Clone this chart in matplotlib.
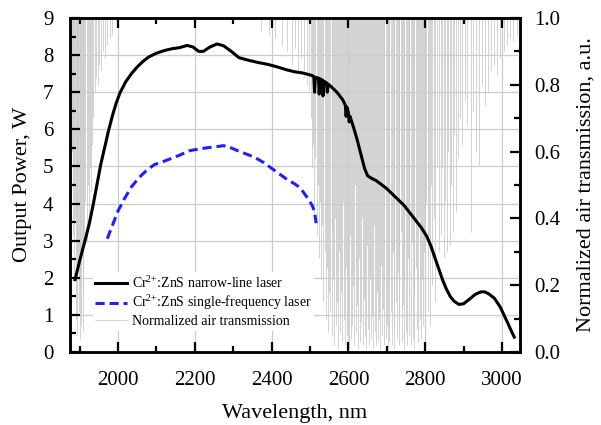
import matplotlib
matplotlib.use("Agg")
import matplotlib.pyplot as plt
from matplotlib.ticker import MultipleLocator, FormatStrFormatter

plt.rcParams['font.family'] = ['Liberation Serif', 'DejaVu Serif']
plt.rcParams['mathtext.fontset'] = 'custom'
plt.rcParams['mathtext.rm'] = 'Liberation Serif'
plt.rcParams['mathtext.it'] = 'Liberation Serif:italic'

# ---------------- data ----------------
# Cr2+:ZnS narrow-line laser (wavelength nm, output power W)
narrow_nm = [1888, 1900, 1914, 1925, 1935, 1945, 1955, 1965, 1975, 1985,
             1995, 2005, 2020, 2035, 2050, 2065, 2080, 2100, 2120, 2140, 2160,
             2180, 2195, 2210, 2222, 2240, 2258, 2275, 2295, 2315, 2340,
             2365, 2390, 2415, 2440, 2460, 2480, 2495, 2505,
             2510, 2512, 2514, 2522, 2524, 2526, 2532, 2534, 2536, 2543, 2545, 2547,
             2555, 2570, 2585, 2592, 2594, 2596, 2600, 2602, 2604, 2612, 2622, 2632,
             2642, 2650, 2660, 2672, 2685, 2700, 2715, 2730, 2745, 2760,
             2775, 2790, 2805, 2815, 2825, 2835, 2845, 2855, 2865, 2875,
             2888, 2900, 2915, 2930, 2945, 2955, 2965, 2980, 2995, 3005,
             3015, 3025, 3032]
narrow_W = [1.95, 2.45, 3.0, 3.45, 3.95, 4.5, 5.05, 5.5, 5.95, 6.35,
            6.7, 6.98, 7.28, 7.5, 7.68, 7.83, 7.95, 8.05, 8.12, 8.17, 8.2,
            8.26, 8.22, 8.1, 8.1, 8.22, 8.3, 8.25, 8.1, 7.93, 7.86,
            7.8, 7.75, 7.68, 7.6, 7.55, 7.52, 7.48, 7.45,
            7.42, 7.0, 7.4, 7.38, 6.95, 7.36, 7.33, 6.9, 7.3, 7.25, 7.0, 7.22,
            7.15, 7.0, 6.8, 6.65, 6.35, 6.6, 6.45, 6.2, 6.35, 6.1, 5.75, 5.35,
            4.95, 4.75, 4.68, 4.62, 4.52, 4.4, 4.25, 4.1, 3.95, 3.75,
            3.55, 3.35, 3.1, 2.85, 2.55, 2.25, 1.95, 1.7, 1.5, 1.37,
            1.28, 1.3, 1.42, 1.55, 1.62, 1.62, 1.57, 1.45, 1.22, 1.0,
            0.78, 0.55, 0.4]

# Cr2+:ZnS single-frequency laser
single_nm = [1972, 1985, 2000, 2015, 2035, 2055, 2075, 2095, 2115, 2135,
             2160, 2185, 2200, 2230, 2255, 2275, 2290, 2310, 2330, 2355,
             2380, 2400, 2420, 2440, 2460, 2475, 2490, 2500, 2507, 2512, 2516]
single_W = [3.05, 3.4, 3.8, 4.1, 4.45, 4.7, 4.9, 5.05, 5.12, 5.2,
            5.3, 5.42, 5.45, 5.5, 5.53, 5.56, 5.52, 5.43, 5.35, 5.25,
            5.1, 4.95, 4.8, 4.65, 4.53, 4.42, 4.2, 4.05, 3.92, 3.75, 3.47]

# Normalized air transmission: absorption line positions (nm) and minimum transmission
dipA_nm = [1880, 1882, 1884, 1886, 1888, 1890, 1892, 1894, 1896, 1898,
           1900, 1902, 1904, 1906, 1908, 1910, 1912, 1915, 1918, 1921,
           1924, 1927, 1930, 1933, 1936, 1939, 1943, 1947, 1951, 1956,
           1961, 1966, 1972, 1978, 1985]
dipA_T = [0.60, 0.35, 0.50, 0.22, 0.40, 0.10, 0.30, 0.05, 0.25, 0.12,
          0.04, 0.20, 0.08, 0.30, 0.06, 0.18, 0.35, 0.45, 0.33, 0.50,
          0.40, 0.55, 0.48, 0.62, 0.70, 0.78, 0.82, 0.80, 0.86, 0.84,
          0.90, 0.88, 0.92, 0.94, 0.95]
dipS_nm = [2372, 2392, 2410, 2428, 2441, 2452, 2460, 2468, 2476, 2484, 2491, 2497]
dipS_T = [0.96, 0.95, 0.94, 0.92, 0.90, 0.86, 0.91, 0.84, 0.88, 0.82, 0.80, 0.78]
dipB_nm = [2502, 2505, 2508, 2511, 2514, 2517, 2520, 2523, 2526, 2529,
           2532, 2535, 2538, 2541, 2544, 2547, 2550]
dipB_T = [0.70, 0.55, 0.62, 0.40, 0.58, 0.35, 0.50, 0.28, 0.45, 0.22,
          0.38, 0.15, 0.30, 0.10, 0.25, 0.06, 0.18]
dipC_nm = [2553, 2556, 2558, 2561, 2563, 2566, 2568, 2571, 2573, 2576,
           2578, 2581, 2583, 2586, 2589, 2591, 2594, 2596, 2599, 2601,
           2604, 2606, 2609, 2612, 2614, 2617, 2619, 2622, 2624, 2627,
           2630, 2632, 2635, 2637, 2640, 2642, 2645, 2648, 2650, 2653,
           2655, 2658, 2661, 2663, 2666, 2668, 2671, 2674, 2676, 2679,
           2681, 2684, 2687, 2689, 2692, 2694, 2697, 2700, 2702, 2705,
           2707, 2710, 2713, 2715, 2718, 2720, 2723, 2726, 2728, 2731,
           2733, 2736, 2739, 2741, 2744, 2746, 2749, 2752, 2754, 2757,
           2759, 2762, 2765, 2767, 2770, 2772, 2775, 2778, 2780, 2783,
           2786, 2788, 2791, 2794, 2797, 2800, 2803, 2806, 2809, 2812,
           2815, 2818, 2822, 2826, 2830, 2835]
dipC_T = [0.12, 0.35, 0.05, 0.22, 0.02, 0.40, 0.08, 0.15, 0.01, 0.30,
          0.06, 0.18, 0.03, 0.45, 0.10, 0.02, 0.25, 0.05, 0.12, 0.01,
          0.35, 0.04, 0.08, 0.20, 0.02, 0.50, 0.06, 0.14, 0.01, 0.28,
          0.03, 0.09, 0.40, 0.02, 0.16, 0.05, 0.01, 0.32, 0.07, 0.02,
          0.22, 0.04, 0.11, 0.01, 0.38, 0.06, 0.02, 0.18, 0.03, 0.10,
          0.01, 0.26, 0.05, 0.13, 0.02, 0.44, 0.04, 0.08, 0.01, 0.20,
          0.03, 0.12, 0.02, 0.30, 0.06, 0.01, 0.15, 0.04, 0.24, 0.02,
          0.09, 0.36, 0.03, 0.14, 0.01, 0.20, 0.06, 0.02, 0.28, 0.05,
          0.11, 0.02, 0.33, 0.04, 0.17, 0.01, 0.25, 0.07, 0.03, 0.40,
          0.10, 0.04, 0.22, 0.08, 0.30, 0.05, 0.45, 0.12, 0.35, 0.08,
          0.50, 0.20, 0.40, 0.15, 0.55, 0.30]
dipD_nm = [2840, 2844, 2848, 2852, 2856, 2860, 2864, 2868, 2872, 2876, 2881, 2886, 2891, 2896]
dipD_T = [0.35, 0.55, 0.28, 0.45, 0.30, 0.60, 0.32, 0.50, 0.36, 0.65, 0.42, 0.58, 0.70, 0.62]
dipE_nm = [2903, 2910, 2918, 2925, 2933, 2940, 2948, 2956, 2963, 2971,
           2979, 2987, 2995, 3004, 3012, 3020, 3029, 3038]
dipE_T = [0.75, 0.68, 0.36, 0.72, 0.60, 0.56, 0.80, 0.74, 0.78, 0.84,
          0.86, 0.83, 0.88, 0.90, 0.92, 0.94, 0.93, 0.95]

air_nm = dipA_nm + dipS_nm + dipB_nm + dipC_nm + dipD_nm + dipE_nm
air_T = dipA_T + dipS_T + dipB_T + dipC_T + dipD_T + dipE_T

x_ticks = [2000, 2200, 2400, 2600, 2800, 3000]

# ---------------- plot ----------------
fig = plt.figure(figsize=(6.01, 4.25), dpi=100)
ax = fig.add_axes([0.1165, 0.1718, 0.7488, 0.7859])
ax2 = ax.twinx()

air = ax2.vlines(air_nm, air_T, 1.0, colors='#c6c6c6', linewidth=0.55,
                 label='Normalized air transmission')
ax2.set_ylim(0, 1.0)

ax.set_zorder(ax2.get_zorder() + 1)
ax.patch.set_visible(False)

l1, = ax.plot(narrow_nm, narrow_W, color='black', lw=2.2,
              label=r'Cr$^{2{+}}$:ZnS narrow-line laser')
l2, = ax.plot(single_nm, single_W, color='#1f1fff', lw=2.2, dashes=(3, 1.6),
              label=r'Cr$^{2{+}}$:ZnS single-frequency laser')

ax.set_xlim(1875, 3047)
ax.set_ylim(0, 9)
ax.set_xticks(x_ticks)
ax.xaxis.set_minor_locator(MultipleLocator(100))
ax.yaxis.set_major_locator(MultipleLocator(1))
ax.yaxis.set_minor_locator(MultipleLocator(0.5))
ax2.yaxis.set_major_locator(MultipleLocator(0.2))
ax2.yaxis.set_minor_locator(MultipleLocator(0.1))
ax2.yaxis.set_major_formatter(FormatStrFormatter('%.1f'))

ax.grid(True, which='major', color='#cccccc', lw=0.9)

ax.tick_params(which='both', direction='in', top=True, right=False,
               labelsize=15, width=1.6)
ax.tick_params(axis='x', which='major', pad=14)
ax.tick_params(axis='y', which='major', pad=12)
ax.tick_params(which='major', length=7)
ax.tick_params(which='minor', length=4)
ax2.tick_params(which='both', direction='in', labelsize=15, width=1.6)
ax2.tick_params(which='major', length=7, pad=10)
ax2.tick_params(which='minor', length=4)

for a in (ax, ax2):
    for s in a.spines.values():
        s.set_linewidth(1.8)

ax.set_xlabel('Wavelength, nm', fontsize=16, labelpad=10)
ax.set_ylabel('Output Power, W', fontsize=16, labelpad=8)
ax2.set_ylabel('Normalized air transmission, a.u.', fontsize=16, labelpad=12)

leg = ax.legend(handles=[l1, l2, air], loc='upper left',
                bbox_to_anchor=(0.035, 0.26), fontsize=10, frameon=True,
                framealpha=1, facecolor='white', edgecolor='none',
                handlelength=2.3, handletextpad=0.3, labelspacing=0.2,
                borderpad=0.2, fancybox=False)

fig.savefig('out.png', dpi=100)
